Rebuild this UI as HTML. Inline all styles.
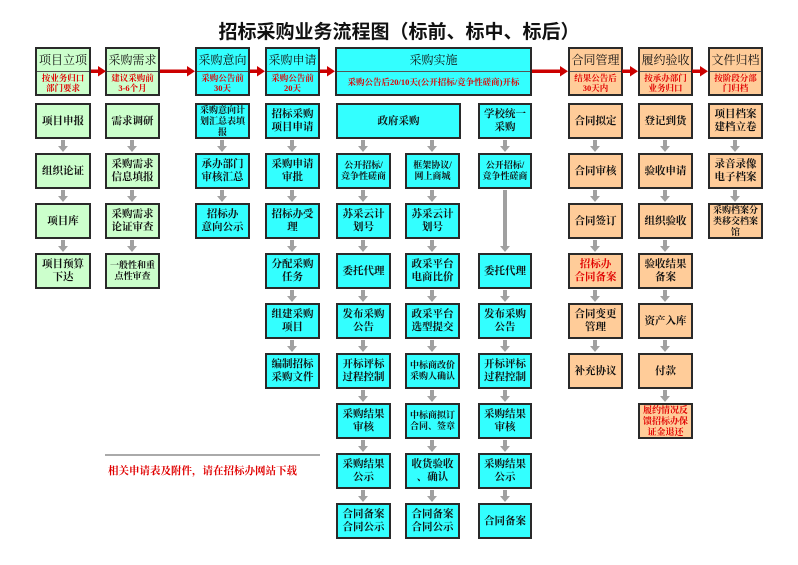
<!DOCTYPE html>
<html><head><meta charset="utf-8">
<style>
*{margin:0;padding:0;box-sizing:border-box}
body{width:798px;height:565px;background:#fff;position:relative;overflow:hidden;font-family:"Liberation Sans","Noto Sans CJK SC",sans-serif}
.t{position:absolute;left:0;width:798px;top:17px;text-align:center;font-size:19px;font-weight:bold;color:#111;font-family:"Liberation Sans","Noto Sans CJK SC",sans-serif}
.b{position:absolute;height:36px;border:2px solid #2a2a2a;display:flex;align-items:center;justify-content:center;text-align:center;font-size:10.5px;line-height:13px;font-weight:bold;color:#111;white-space:nowrap;font-family:"Liberation Serif","Noto Serif CJK SC",serif}
.g{background:#ccffcc}.c{background:#33ffff}.o{background:#ffcc99}
.r{color:#e00000}
.h{position:absolute;top:47px;height:49px;border:2px solid #2a2a2a;white-space:nowrap;overflow:hidden}
.h .a{height:23px;border-bottom:1.5px solid #555;font-size:12px;line-height:22px;text-align:center;font-family:"Liberation Serif","Noto Serif CJK SC",serif;color:#111}
.h .s{color:#e00000;font-size:8.5px;line-height:10px;text-align:center;font-weight:bold;padding-top:1px;font-family:"Liberation Serif","Noto Serif CJK SC",serif}
.sm{font-size:9px;line-height:11px}
svg{position:absolute;left:0;top:0}
.note{position:absolute;left:108px;top:463px;color:#e00000;font-size:10.5px;font-weight:bold;font-family:"Liberation Serif","Noto Serif CJK SC",serif}
</style></head><body>
<div class="t">招标采购业务流程图（标前、标中、标后）</div>

<div class="h g" style="left:35px;width:56px"><div class="a">项目立项</div><div class="s">按业务归口<br>部门要求</div></div>
<div class="h g" style="left:105px;width:55px"><div class="a">采购需求</div><div class="s">建议采购前<br>3-6个月</div></div>
<div class="h c" style="left:195px;width:55px"><div class="a">采购意向</div><div class="s">采购公告前<br>30天</div></div>
<div class="h c" style="left:265px;width:55px"><div class="a">采购申请</div><div class="s">采购公告前<br>20天</div></div>
<div class="h c" style="left:335px;width:197px"><div class="a">采购实施</div><div class="s" style="padding-top:5px">采购公告后20/10天(公开招标/竞争性磋商)开标</div></div>
<div class="h o" style="left:568px;width:55px"><div class="a">合同管理</div><div class="s">结果公告后<br>30天内</div></div>
<div class="h o" style="left:638px;width:55px"><div class="a">履约验收</div><div class="s">按承办部门<br>业务归口</div></div>
<div class="h o" style="left:708px;width:55px"><div class="a">文件归档</div><div class="s">按阶段分部<br>门归档</div></div>

<!-- col1 -->
<div class="b g" style="left:35px;width:56px;top:103px">项目申报</div>
<div class="b g" style="left:35px;width:56px;top:153px">组织论证</div>
<div class="b g" style="left:35px;width:56px;top:203px">项目库</div>
<div class="b g" style="left:35px;width:56px;top:253px">项目预算<br>下达</div>
<!-- col2 -->
<div class="b g" style="left:105px;width:55px;top:103px">需求调研</div>
<div class="b g" style="left:105px;width:55px;top:153px">采购需求<br>信息填报</div>
<div class="b g" style="left:105px;width:55px;top:203px">采购需求<br>论证审查</div>
<div class="b g sm" style="left:105px;width:55px;top:253px">一般性和重<br>点性审查</div>
<!-- col3 -->
<div class="b c sm" style="left:195px;width:55px;top:103px">采购意向计<br>划汇总表填<br>报</div>
<div class="b c" style="left:195px;width:55px;top:153px">承办部门<br>审核汇总</div>
<div class="b c" style="left:195px;width:55px;top:203px">招标办<br>意向公示</div>
<!-- col4 -->
<div class="b c" style="left:265px;width:55px;top:103px">招标采购<br>项目申请</div>
<div class="b c" style="left:265px;width:55px;top:153px">采购申请<br>审批</div>
<div class="b c" style="left:265px;width:55px;top:203px">招标办受<br>理</div>
<div class="b c" style="left:265px;width:55px;top:253px">分配采购<br>任务</div>
<div class="b c" style="left:265px;width:55px;top:303px">组建采购<br>项目</div>
<div class="b c" style="left:265px;width:55px;top:353px">编制招标<br>采购文件</div>
<!-- gov -->
<div class="b c" style="left:336px;width:125px;top:103px">政府采购</div>
<div class="b c sm" style="left:336px;width:55px;top:153px">公开招标/<br>竞争性磋商</div>
<div class="b c" style="left:336px;width:55px;top:203px">苏采云计<br>划号</div>
<div class="b c" style="left:336px;width:55px;top:253px">委托代理</div>
<div class="b c" style="left:336px;width:55px;top:303px">发布采购<br>公告</div>
<div class="b c" style="left:336px;width:55px;top:353px">开标评标<br>过程控制</div>
<div class="b c" style="left:336px;width:55px;top:403px">采购结果<br>审核</div>
<div class="b c" style="left:336px;width:55px;top:453px">采购结果<br>公示</div>
<div class="b c" style="left:336px;width:55px;top:503px">合同备案<br>合同公示</div>
<div class="b c sm" style="left:405px;width:55px;top:153px">框架协议/<br>网上商城</div>
<div class="b c" style="left:405px;width:55px;top:203px">苏采云计<br>划号</div>
<div class="b c" style="left:405px;width:55px;top:253px">政采平台<br>电商比价</div>
<div class="b c" style="left:405px;width:55px;top:303px">政采平台<br>选型提交</div>
<div class="b c sm" style="left:405px;width:55px;top:353px">中标商改价<br>采购人确认</div>
<div class="b c sm" style="left:405px;width:55px;top:403px">中标商拟订<br>合同、签章</div>
<div class="b c" style="left:405px;width:55px;top:453px">收货验收<br>、确认</div>
<div class="b c" style="left:405px;width:55px;top:503px">合同备案<br>合同公示</div>
<!-- school -->
<div class="b c" style="left:478px;width:54px;top:103px">学校统一<br>采购</div>
<div class="b c sm" style="left:478px;width:54px;top:153px">公开招标/<br>竞争性磋商</div>
<div class="b c" style="left:478px;width:54px;top:253px">委托代理</div>
<div class="b c" style="left:478px;width:54px;top:303px">发布采购<br>公告</div>
<div class="b c" style="left:478px;width:54px;top:353px">开标评标<br>过程控制</div>
<div class="b c" style="left:478px;width:54px;top:403px">采购结果<br>审核</div>
<div class="b c" style="left:478px;width:54px;top:453px">采购结果<br>公示</div>
<div class="b c" style="left:478px;width:54px;top:503px">合同备案</div>
<!-- contract -->
<div class="b o" style="left:568px;width:55px;top:103px">合同拟定</div>
<div class="b o" style="left:568px;width:55px;top:153px">合同审核</div>
<div class="b o" style="left:568px;width:55px;top:203px">合同签订</div>
<div class="b o r" style="left:568px;width:55px;top:253px">招标办<br>合同备案</div>
<div class="b o" style="left:568px;width:55px;top:303px">合同变更<br>管理</div>
<div class="b o" style="left:568px;width:55px;top:353px">补充协议</div>
<!-- acceptance -->
<div class="b o" style="left:638px;width:55px;top:103px">登记到货</div>
<div class="b o" style="left:638px;width:55px;top:153px">验收申请</div>
<div class="b o" style="left:638px;width:55px;top:203px">组织验收</div>
<div class="b o" style="left:638px;width:55px;top:253px">验收结果<br>备案</div>
<div class="b o" style="left:638px;width:55px;top:303px">资产入库</div>
<div class="b o" style="left:638px;width:55px;top:353px">付款</div>
<div class="b o r sm" style="left:638px;width:55px;top:403px">履约情况反<br>馈招标办保<br>证金退还</div>
<!-- archive -->
<div class="b o" style="left:708px;width:55px;top:103px">项目档案<br>建档立卷</div>
<div class="b o" style="left:708px;width:55px;top:153px">录音录像<br>电子档案</div>
<div class="b o sm" style="left:708px;width:55px;top:203px">采购档案分<br>类移交档案<br>馆</div>

<div class="note">相关申请表及附件，请在招标办网站下载</div>

<svg width="798" height="565">
<line x1="105" y1="455" x2="320" y2="455" stroke="#555" stroke-width="1"/>
<g fill="#cc0000">
<rect x="91" y="69.5" width="8" height="3.5"/><path d="M98 66L106 71.2L98 76.5Z"/>
<rect x="160" y="69.5" width="28" height="3.5"/><path d="M187 66L195 71.2L187 76.5Z"/>
<rect x="250" y="69.5" width="8" height="3.5"/><path d="M257 66L265 71.2L257 76.5Z"/>
<rect x="320" y="69.5" width="8" height="3.5"/><path d="M327 66L335 71.2L327 76.5Z"/>
<rect x="532" y="69.5" width="29" height="3.5"/><path d="M560 66L568 71.2L560 76.5Z"/>
<rect x="622" y="69.5" width="9" height="3.5"/><path d="M630 66L638 71.2L630 76.5Z"/>
<rect x="692" y="69.5" width="9" height="3.5"/><path d="M700 66L708 71.2L700 76.5Z"/>
</g>
<g fill="#a0a0a0">
<path d="
M61 140h4v6h-4z M58 146h10l-5 6z M61 190h4v6h-4z M58 196h10l-5 6z M61 240h4v6h-4z M58 246h10l-5 6z
M130 140h4v6h-4z M127 146h10l-5 6z M130 190h4v6h-4z M127 196h10l-5 6z M130 240h4v6h-4z M127 246h10l-5 6z
M220 140h4v6h-4z M217 146h10l-5 6z M220 190h4v6h-4z M217 196h10l-5 6z
M290 140h4v6h-4z M287 146h10l-5 6z M290 190h4v6h-4z M287 196h10l-5 6z M290 240h4v6h-4z M287 246h10l-5 6z M290 290h4v6h-4z M287 296h10l-5 6z M290 340h4v6h-4z M287 346h10l-5 6z
M361 140h4v6h-4z M358 146h10l-5 6z M361 190h4v6h-4z M358 196h10l-5 6z M361 240h4v6h-4z M358 246h10l-5 6z M361 290h4v6h-4z M358 296h10l-5 6z M361 340h4v6h-4z M358 346h10l-5 6z M361 390h4v6h-4z M358 396h10l-5 6z M361 440h4v6h-4z M358 446h10l-5 6z M361 490h4v6h-4z M358 496h10l-5 6z
M430 140h4v6h-4z M427 146h10l-5 6z M430 190h4v6h-4z M427 196h10l-5 6z M430 240h4v6h-4z M427 246h10l-5 6z M430 290h4v6h-4z M427 296h10l-5 6z M430 340h4v6h-4z M427 346h10l-5 6z M430 390h4v6h-4z M427 396h10l-5 6z M430 440h4v6h-4z M427 446h10l-5 6z M430 490h4v6h-4z M427 496h10l-5 6z
M503 140h4v6h-4z M500 146h10l-5 6z M503 190h4v56h-4z M500 246h10l-5 6z M503 290h4v6h-4z M500 296h10l-5 6z M503 340h4v6h-4z M500 346h10l-5 6z M503 390h4v6h-4z M500 396h10l-5 6z M503 440h4v6h-4z M500 446h10l-5 6z M503 490h4v6h-4z M500 496h10l-5 6z
M593 140h4v6h-4z M590 146h10l-5 6z M593 190h4v6h-4z M590 196h10l-5 6z M593 240h4v6h-4z M590 246h10l-5 6z M593 290h4v6h-4z M590 296h10l-5 6z M593 340h4v6h-4z M590 346h10l-5 6z
M663 140h4v6h-4z M660 146h10l-5 6z M663 190h4v6h-4z M660 196h10l-5 6z M663 240h4v6h-4z M660 246h10l-5 6z M663 290h4v6h-4z M660 296h10l-5 6z M663 340h4v6h-4z M660 346h10l-5 6z M663 390h4v6h-4z M660 396h10l-5 6z
M733 140h4v6h-4z M730 146h10l-5 6z M733 190h4v6h-4z M730 196h10l-5 6z
"/>
</g>
</svg>
</body></html>
